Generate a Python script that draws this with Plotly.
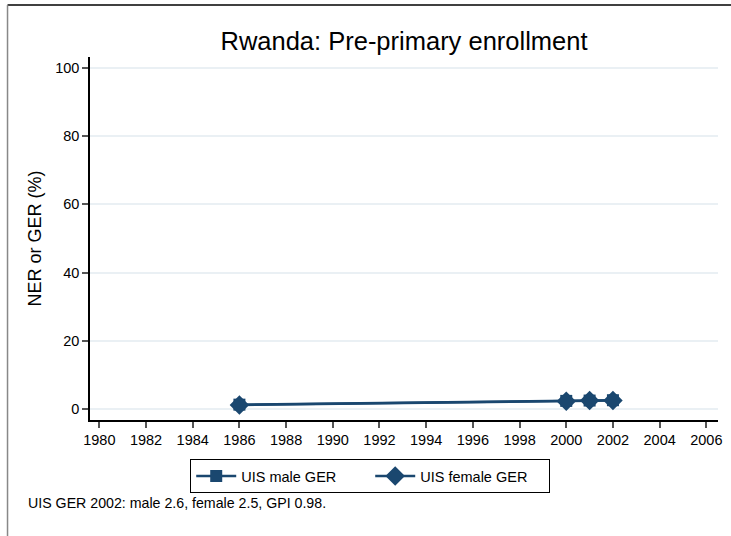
import plotly.graph_objects as go

# ── Data ────────────────────────────────────────────────────────────────────
years = [1986, 2000, 2001, 2002]
male_ger = [1.3, 2.4, 2.5, 2.6]
female_ger = [1.2, 2.3, 2.5, 2.5]

x_ticks = list(range(1980, 2007, 2))
y_ticks = [0, 20, 40, 60, 80, 100]

NAVY = "#1a476f"
FONT = "Liberation Sans, Arial, sans-serif"

# plot area in pixels (731 x 536 canvas)
L, R, T, B = 90, 722, 57, 420
W, H = 731, 536


def px_x(p):
    return (p - L) / (R - L)


def px_y(p):
    return (B - p) / (B - T)


fig = go.Figure()

fig.add_trace(go.Scatter(
    x=years, y=male_ger, name="UIS male GER",
    mode="lines+markers",
    line=dict(color=NAVY, width=2.5),
    marker=dict(symbol="square", size=12, color=NAVY),
))
fig.add_trace(go.Scatter(
    x=years, y=female_ger, name="UIS female GER",
    mode="lines+markers",
    line=dict(color=NAVY, width=2.5),
    marker=dict(symbol="diamond", size=15, color=NAVY),
))

fig.update_layout(
    width=W, height=H,
    paper_bgcolor="white",
    plot_bgcolor="white",
    font=dict(family=FONT, color="#000000", size=14),
    margin=dict(l=L, r=W - R, t=T, b=H - B),
    title=dict(
        text="Rwanda: Pre-primary enrollment",
        font=dict(size=25.5, color="#000000"),
        x=px_x(406), xref="paper", xanchor="center",
        y=1 - 41 / H, yref="container", yanchor="middle",
    ),
    xaxis=dict(
        range=[1979.6, 2006.5],
        tickvals=x_ticks,
        ticks="outside", ticklen=6, tickcolor="#555555", tickwidth=1.5,
        showline=True, linecolor="#000000", linewidth=1.5,
        showgrid=False, zeroline=False,
        tickfont=dict(size=14.5),
    ),
    yaxis=dict(
        range=[-3.2, 103.2],
        tickvals=y_ticks,
        ticks="outside", ticklen=6, tickcolor="#555555", tickwidth=1.5,
        showline=True, linecolor="#000000", linewidth=1.5,
        showgrid=True, gridcolor="#eaf0f4", gridwidth=1.5,
        zeroline=False,
        title=dict(text="NER or GER (%)", font=dict(size=18), standoff=9),
        tickfont=dict(size=14.5),
    ),
    legend=dict(
        orientation="h",
        x=px_x(372), xanchor="center",
        y=px_y(459), yanchor="top",
        bordercolor="#000000", borderwidth=1,
        font=dict(size=14.5),
        entrywidth=124,
        itemwidth=40,
    ),
    showlegend=True,
)

fig.add_annotation(
    text="UIS GER 2002: male 2.6, female 2.5, GPI 0.98.",
    xref="paper", yref="paper",
    x=px_x(26), y=px_y(503),
    xanchor="left", yanchor="middle",
    showarrow=False,
    font=dict(size=14.2, color="#000000"),
)

# outer frame (top and left edges visible)
fig.add_shape(type="line", xref="paper", yref="paper",
              x0=px_x(7), x1=px_x(740), y0=px_y(5), y1=px_y(5),
              line=dict(color="#000000", width=1.5))
fig.add_shape(type="line", xref="paper", yref="paper",
              x0=px_x(7), x1=px_x(7), y0=px_y(5), y1=px_y(545),
              line=dict(color="#888888", width=1.5))

# drop the page's default body margin so the figure sits at the origin
fig.write_html(
    "out.html",
    config={"displayModeBar": False},
    post_script="document.body.style.margin='0';",
)
